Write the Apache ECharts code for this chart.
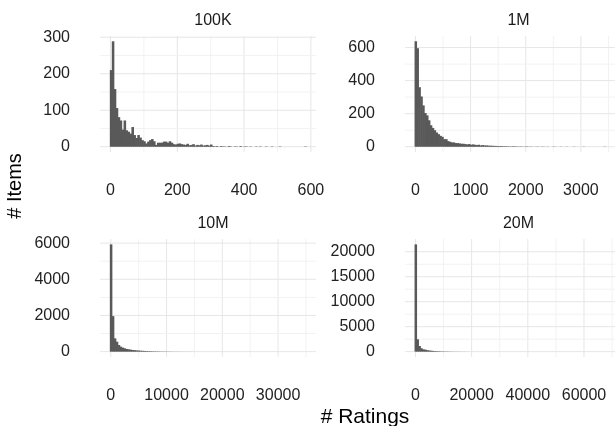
<!DOCTYPE html>
<html>
<head>
<meta charset="utf-8">
<script src="https://cdn.jsdelivr.net/npm/echarts@6/dist/echarts.min.js"></script>
<style>
  html, body { margin: 0; padding: 0; background: #fff; }
  #main { width: 615px; height: 426px; }
</style>
</head>
<body>
<div id="main"></div>
<script>
// facet names
var panels = ['100K', '1M', '10M', '20M'];

// rating count range per dataset (min / max ratings of a movie), 100 bins each
var minRatings = [1, 1, 1, 1];
var maxRatings = [583, 3428, 34864, 67310];

// histogram counts (# items per bin)
var counts100K = [
  210, 289, 158, 106, 81, 72, 47, 72, 45, 41,
  36, 54, 32, 24, 32, 25, 18, 15, 9, 14,
  18, 21, 15, 5, 11, 11, 11, 14, 14, 11,
  15, 11, 7, 6, 8, 9, 7, 6, 5, 8,
  4, 5, 7, 3, 5, 4, 6, 3, 4, 5,
  3, 6, 2, 1, 2, 0, 2, 1, 1, 0,
  2, 1, 0, 1, 1, 0, 2, 0, 1, 1,
  0, 1, 0, 0, 1, 0, 1, 0, 0, 1,
  0, 0, 1, 0, 0, 0, 1, 0, 0, 0,
  0, 0, 0, 0, 0, 0, 0, 0, 0, 1
];
var counts1M = [
  638, 596, 360, 304, 250, 204, 190, 160, 130, 114,
  100, 86, 76, 66, 60, 46, 46, 34, 30, 26,
  26, 22, 22, 20, 18, 18, 16, 14, 16, 12,
  14, 12, 10, 12, 8, 10, 8, 8, 7, 6,
  6, 5, 5, 4, 4, 4, 3, 3, 3, 2,
  2, 3, 2, 2, 1, 2, 1, 1, 2, 1,
  1, 1, 0, 1, 1, 0, 1, 1, 0, 1,
  0, 0, 1, 1, 0, 0, 1, 0, 0, 1,
  0, 0, 0, 1, 0, 0, 0, 0, 1, 0,
  0, 0, 0, 0, 0, 0, 0, 0, 0, 1
];
var counts10M = [
  5930, 1963, 734, 550, 367, 275, 220, 183, 147, 128,
  110, 92, 80, 70, 60, 52, 45, 40, 34, 30,
  26, 22, 19, 17, 15, 13, 11, 10, 9, 8,
  7, 6, 5, 5, 4, 4, 3, 3, 3, 2,
  2, 2, 2, 1, 1, 1, 1, 1, 1, 1,
  0, 1, 0, 1, 0, 0, 1, 0, 0, 0,
  0, 0, 0, 0, 0, 0, 0, 0, 0, 0,
  0, 0, 0, 0, 0, 0, 0, 0, 0, 0,
  0, 0, 0, 0, 0, 0, 0, 0, 0, 0,
  0, 0, 0, 0, 0, 0, 0, 0, 0, 1
];
var counts20M = [
  21480, 2480, 1130, 670, 470, 400, 300, 230, 190, 150,
  120, 100, 85, 70, 60, 50, 42, 36, 30, 26,
  22, 18, 15, 13, 11, 9, 8, 7, 6, 5,
  4, 4, 3, 3, 2, 2, 2, 1, 1, 1,
  1, 1, 0, 1, 0, 1, 0, 0, 1, 0,
  0, 0, 0, 0, 0, 0, 0, 0, 0, 0,
  0, 0, 0, 0, 0, 0, 0, 0, 0, 0,
  0, 0, 0, 0, 0, 0, 0, 0, 0, 0,
  0, 0, 0, 0, 0, 0, 0, 0, 0, 0,
  0, 0, 0, 0, 0, 0, 0, 0, 0, 1
];
var allCounts = [counts100K, counts1M, counts10M, counts20M];

// tick labels (major) and minor grid values
var xTicks = [[0, 200, 400, 600], [0, 1000, 2000, 3000], [0, 10000, 20000, 30000], [0, 20000, 40000, 60000]];
var xMinor = [[100, 300, 500], [500, 1500, 2500, 3500], [5000, 15000, 25000, 35000], [10000, 30000, 50000, 70000]];
var yTicks = [[0, 100, 200, 300], [0, 200, 400, 600], [0, 2000, 4000, 6000], [0, 5000, 10000, 15000, 20000]];
var yMinor = [[50, 150, 250], [100, 300, 500], [1000, 3000, 5000], [2500, 7500, 12500, 17500]];

// panel placement
var gridPos = [
  { left: 100, top: 36, width: 216, height: 116 },
  { left: 405, top: 36, width: 217, height: 116 },
  { left: 100, top: 239, width: 216, height: 118 },
  { left: 405, top: 239, width: 217, height: 118 }
];

var FONT = 'Liberation Sans';
var charts = echarts.init(document.getElementById('main'));

var grids = [], xAxes = [], yAxes = [], series = [], titles = [];

panels.forEach(function (name, k) {
  var counts = allCounts[k];
  var n = counts.length;
  var w = (maxRatings[k] - minRatings[k]) / (n - 1);
  var lo = minRatings[k] - w / 2, hi = maxRatings[k] + w / 2;
  var pad = (hi - lo) * 0.05;
  var cmax = Math.max.apply(null, counts);

  var bins = counts.map(function (c, i) {
    return [lo + i * w, lo + (i + 1) * w, c];
  });

  var lines = [];
  xTicks[k].forEach(function (v) { lines.push([v, 0, 1]); });
  xMinor[k].forEach(function (v) { lines.push([v, 0, 0]); });
  yTicks[k].forEach(function (v) { lines.push([v, 1, 1]); });
  yMinor[k].forEach(function (v) { lines.push([v, 1, 0]); });

  grids.push(gridPos[k]);
  xAxes.push({
    type: 'value', gridIndex: k, min: lo - pad, max: hi + pad,
    axisLine: { show: false }, axisTick: { show: false }, splitLine: { show: false },
    axisLabel: {
      customValues: xTicks[k], margin: 31, color: '#222', fontSize: 16, fontFamily: FONT,
      formatter: function (v) { return String(v); }
    }
  });
  yAxes.push({
    type: 'value', gridIndex: k, min: -cmax * 0.05, max: cmax * 1.05,
    axisLine: { show: false }, axisTick: { show: false }, splitLine: { show: false },
    axisLabel: {
      customValues: yTicks[k], margin: 30, color: '#222', fontSize: 16, fontFamily: FONT,
      formatter: function (v) { return String(v); }
    }
  });

  // grid lines
  series.push({
    type: 'custom', xAxisIndex: k, yAxisIndex: k, silent: true, z: 1,
    data: lines,
    renderItem: function (params, api) {
      var cs = params.coordSys;
      var v = api.value(0), isY = api.value(1), major = api.value(2);
      var x1, y1, x2, y2;
      if (isY) {
        var py = api.coord([0, v])[1];
        x1 = cs.x; x2 = cs.x + cs.width; y1 = y2 = py;
      } else {
        var px = api.coord([v, 0])[0];
        y1 = cs.y; y2 = cs.y + cs.height; x1 = x2 = px;
      }
      return {
        type: 'line',
        shape: { x1: x1, y1: y1, x2: x2, y2: y2 },
        style: { stroke: major ? '#e6e6e6' : '#f2f2f2', lineWidth: 1 }
      };
    }
  });

  // histogram bars (slightly widened so neighbours overlap, no white seams)
  series.push({
    type: 'custom', xAxisIndex: k, yAxisIndex: k, silent: true, z: 2,
    encode: { x: [0, 1], y: 2 },
    data: bins,
    renderItem: function (params, api) {
      var c = api.value(2);
      if (!c) return;
      var p0 = api.coord([api.value(0), 0]);
      var p1 = api.coord([api.value(1), c]);
      return {
        type: 'rect',
        shape: { x: p0[0], y: p1[1], width: p1[0] - p0[0] + 0.6, height: p0[1] - p1[1] },
        style: { fill: '#595959' }
      };
    }
  });

  titles.push({
    text: name,
    left: gridPos[k].left + gridPos[k].width / 2, top: gridPos[k].top - 28,
    textAlign: 'center',
    textStyle: { fontSize: 16, fontWeight: 'normal', color: '#1a1a1a', fontFamily: FONT }
  });
});

titles.push({
  text: '# Ratings', left: 360, top: 402, textAlign: 'center',
  textStyle: { fontSize: 21, fontWeight: 'normal', color: '#000', fontFamily: FONT }
});

charts.setOption({
  animation: false,
  title: titles,
  grid: grids,
  xAxis: xAxes,
  yAxis: yAxes,
  series: series,
  graphic: [{
    type: 'text', x: 15, y: 186, rotation: Math.PI / 2,
    style: {
      text: '# Items', fill: '#000', fontSize: 20, fontFamily: FONT,
      align: 'center', verticalAlign: 'middle'
    }
  }]
});
</script>
</body>
</html>
